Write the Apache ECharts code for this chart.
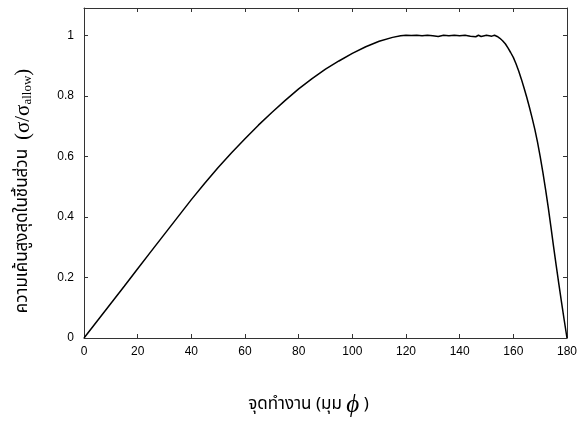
<!DOCTYPE html>
<html>
<head>
<meta charset="utf-8">
<script src="https://cdn.jsdelivr.net/npm/echarts@6/dist/echarts.min.js"></script>
<style>
  html, body { margin: 0; padding: 0; background: #fff; }
  #chart { width: 580px; height: 424px; }
</style>
</head>
<body>
<div id="chart"></div>
<script>
// operating angle phi (deg) and stress ratio sigma/sigma_allow
const phi = [
  0, 5, 10, 15, 20, 25, 30, 35, 40, 45, 50, 55, 60, 65, 70, 75, 80, 85, 90, 95,
  100, 105, 110, 115, 118, 120, 122, 124, 126, 128, 130, 132, 134, 136, 138, 140,
  142, 144, 146, 147, 148, 150, 152, 153, 154, 155, 156, 157, 158, 159, 160,
  161, 162, 163, 164, 165, 166, 167, 168, 169, 170, 171, 172, 173, 174, 175,
  176, 177, 178, 179, 180,
];
const stressRatio = [
  0, 0.057, 0.114, 0.171, 0.229, 0.286, 0.343, 0.4, 0.457, 0.511, 0.563, 0.612,
  0.658, 0.703, 0.745, 0.785, 0.823, 0.857, 0.888, 0.915,
  0.94, 0.962, 0.98, 0.993, 0.998, 1.0, 0.999, 1.0, 0.998, 1.0, 0.998, 0.996, 1.0,
  0.998, 1.0, 0.998, 1.0, 0.997, 0.995, 1.0, 0.996, 1.0, 0.997, 1.0,
  0.996, 0.99, 0.982, 0.972, 0.958, 0.943, 0.927,
  0.906, 0.882, 0.855, 0.826, 0.795, 0.762, 0.727, 0.69, 0.648, 0.6, 0.548,
  0.492, 0.432, 0.368, 0.302, 0.238, 0.176, 0.116, 0.057, 0,
];

const xTicks = [0, 20, 40, 60, 80, 100, 120, 140, 160, 180];
const yTicks = [0, 0.2, 0.4, 0.6, 0.8, 1];

const AXIS_COLOR = "#333";
const LABEL_FONT = "Liberation Sans, Arial, sans-serif";
const THAI_FONT = "Tahoma, Noto Sans Thai, sans-serif";
const SERIF_FONT = "Liberation Serif, Times New Roman, serif";

const chart = echarts.init(document.getElementById("chart"), null, { renderer: "canvas" });

const baseX = {
  type: "value",
  min: xTicks[0],
  max: xTicks[xTicks.length - 1],
  interval: 20,
  axisLine: { show: true, onZero: false, lineStyle: { color: AXIS_COLOR, width: 1 } },
  axisTick: { show: true, inside: true, length: 4, lineStyle: { color: AXIS_COLOR } },
  splitLine: { show: false },
};
const baseY = {
  type: "value",
  min: 0,
  max: 1.09,
  interval: 0.2,
  axisLine: { show: true, onZero: false, lineStyle: { color: AXIS_COLOR, width: 1 } },
  axisTick: { show: true, inside: true, length: 4, lineStyle: { color: AXIS_COLOR } },
  splitLine: { show: false },
};

const option = {
  backgroundColor: "#fff",
  animation: false,
  grid: { left: 84, right: 10, top: 8, bottom: 86 },
  xAxis: [
    {
      ...baseX,
      position: "bottom",
      axisLabel: { color: "#000", fontSize: 12, fontFamily: LABEL_FONT, margin: 8 },
      name: "{t|จุดทำงาน (มุม }{p|ϕ}{t| )}",
      nameLocation: "middle",
      nameGap: 55,
      nameTextStyle: {
        padding: [0, 34, 0, 0],
        rich: {
          t: { fontSize: 17, color: "#000", fontFamily: THAI_FONT },
          p: { fontSize: 25, color: "#000", fontStyle: "italic", fontFamily: SERIF_FONT },
        },
      },
    },
    { ...baseX, position: "top", axisLabel: { show: false } },
  ],
  yAxis: [
    {
      ...baseY,
      position: "left",
      axisLabel: {
        color: "#000",
        fontSize: 12,
        fontFamily: LABEL_FONT,
        margin: 10,
        formatter: (v) => (yTicks.some((t) => Math.abs(t - v) < 1e-9) ? String(v) : ""),
      },
      name: "{t|ความเค้นสูงสุดในชิ้นส่วน  }{s|(σ/σ}{sub|allow}{s|)}",
      nameLocation: "middle",
      nameRotate: 90,
      nameGap: 50,
      nameTextStyle: {
        padding: [0, 36, 0, 0],
        rich: {
          t: { fontSize: 17, color: "#000", fontFamily: THAI_FONT },
          s: { fontSize: 21, color: "#000", fontFamily: SERIF_FONT },
          sub: { fontSize: 13, color: "#000", fontFamily: SERIF_FONT, padding: [8, 0, 0, 0] },
        },
      },
    },
    { ...baseY, position: "right", axisLabel: { show: false } },
  ],
  series: [
    {
      type: "line",
      data: phi.map((p, i) => [p, stressRatio[i]]),
      showSymbol: false,
      smooth: false,
      lineStyle: { color: "#000", width: 1.5 },
      clip: true,
    },
  ],
};

chart.setOption(option);
</script>
</body>
</html>
